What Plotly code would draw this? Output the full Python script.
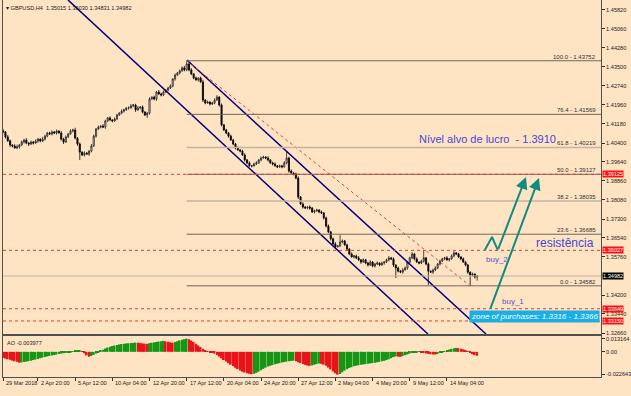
import plotly.graph_objects as go

# ---------------- data (GBPUSD H4) ----------------
closes = [
    1.4085, 1.4065, 1.4049, 1.4032, 1.4028, 1.4020, 1.4024, 1.4032, 1.4044, 1.4052,
    1.4040, 1.4036, 1.4044, 1.4040, 1.4048, 1.4056, 1.4048, 1.4056, 1.4068, 1.4081,
    1.4077, 1.4085, 1.4081, 1.4089, 1.4081, 1.4056, 1.4044, 1.4065, 1.4077, 1.4089,
    1.4093, 1.4060, 1.4036, 1.4003, 1.3991, 1.3999, 1.3995, 1.4007, 1.4028, 1.4068,
    1.4097, 1.4105, 1.4109, 1.4105, 1.4130, 1.4142, 1.4134, 1.4130, 1.4138, 1.4154,
    1.4162, 1.4170, 1.4175, 1.4183, 1.4183, 1.4191, 1.4195, 1.4175, 1.4183, 1.4187,
    1.4166, 1.4154, 1.4162, 1.4219, 1.4227, 1.4219, 1.4248, 1.4240, 1.4236, 1.4248,
    1.4256, 1.4264, 1.4272, 1.4301, 1.4317, 1.4325, 1.4334, 1.4346, 1.4338, 1.4362,
    1.4338, 1.4321, 1.4305, 1.4297, 1.4305, 1.4289, 1.4215, 1.4203, 1.4207, 1.4199,
    1.4203, 1.4215, 1.4227, 1.4195, 1.4114, 1.4093, 1.4081, 1.4068, 1.4052, 1.4036,
    1.4020, 1.4012, 1.4007, 1.3991, 1.3971, 1.3959, 1.3947, 1.3947, 1.3955, 1.3959,
    1.3971, 1.3979, 1.3983, 1.3979, 1.3971, 1.3959, 1.3955, 1.3947, 1.3943, 1.3947,
    1.3943, 1.3959, 1.3979, 1.3926, 1.3918, 1.3914, 1.3897, 1.3820, 1.3792, 1.3779,
    1.3775, 1.3779, 1.3775, 1.3759, 1.3763, 1.3767, 1.3759, 1.3755, 1.3735, 1.3702,
    1.3678, 1.3650, 1.3629, 1.3617, 1.3621, 1.3637, 1.3641, 1.3625, 1.3608, 1.3588,
    1.3576, 1.3580, 1.3572, 1.3564, 1.3555, 1.3564, 1.3551, 1.3543, 1.3555, 1.3539,
    1.3547, 1.3551, 1.3543, 1.3551, 1.3555, 1.3564, 1.3572, 1.3568, 1.3543, 1.3531,
    1.3518, 1.3514, 1.3523, 1.3531, 1.3555, 1.3572, 1.3588, 1.3568, 1.3555, 1.3551,
    1.3559, 1.3572, 1.3547, 1.3518, 1.3514, 1.3523, 1.3531, 1.3547, 1.3559, 1.3568,
    1.3572, 1.3564, 1.3568, 1.3580, 1.3592, 1.3588, 1.3576, 1.3568, 1.3555, 1.3543,
    1.3514, 1.3502, 1.3506, 1.3494, 1.34982,
]
first_open = 1.4090
upper_wick_pips = [
    6, 4, 8, 5, 3, 7, 9, 4, 6, 5, 8, 3, 6, 4, 7, 5, 3, 9, 6, 4,
    5, 7, 4, 6, 3, 8, 5, 6, 4, 7, 5, 9, 4, 6, 3, 7, 5, 4, 8, 6,
    4, 6, 3, 8, 5, 4, 7, 3, 6, 5, 4, 7, 5, 3, 6, 8, 4, 5, 7, 3,
    6, 4, 5, 7, 3, 6, 4, 8, 5, 6, 4, 5, 7, 3, 6, 4, 5, 6, 8, 13,
    5, 7, 4, 6, 3, 5, 9, 4, 6, 3, 5, 7, 8, 4, 6, 3, 5, 4, 6, 5,
    4, 6, 3, 5, 7, 4, 6, 3, 5, 7, 4, 6, 5, 3, 7, 4, 5, 6, 3, 5,
    4, 7, 25, 5, 6, 3, 5, 8, 4, 6, 5, 3, 7, 4, 6, 5, 3, 6, 4, 5,
    6, 4, 5, 7, 3, 28, 6, 4, 5, 3, 6, 4, 5, 7, 3, 6, 4, 5, 8, 4,
    5, 7, 3, 6, 4, 5, 8, 4, 6, 3, 5, 4, 7, 6, 3, 5, 8, 4, 6, 3,
    5, 32, 4, 6, 3, 5, 7, 4, 6, 5, 4, 7, 3, 6, 8, 4, 5, 3, 6, 4,
    5, 3, 6, 4, 1,
]
lower_wick_pips = [
    5, 7, 4, 8, 6, 3, 5, 7, 4, 6, 5, 8, 4, 6, 3, 7, 5, 4, 6, 5,
    4, 6, 5, 7, 3, 6, 8, 4, 5, 3, 6, 5, 7, 32, 4, 6, 3, 8, 5, 4,
    6, 3, 5, 4, 7, 5, 3, 6, 4, 5, 3, 5, 6, 4, 7, 3, 5, 8, 4, 6,
    5, 4, 12, 6, 3, 5, 7, 4, 6, 5, 3, 6, 4, 5, 7, 3, 5, 4, 6, 5,
    6, 4, 5, 3, 7, 4, 8, 5, 3, 6, 4, 5, 3, 7, 6, 4, 5, 6, 3, 5,
    6, 4, 5, 3, 7, 5, 4, 6, 3, 5, 4, 6, 3, 5, 7, 4, 6, 3, 5, 4,
    6, 3, 5, 7, 4, 6, 5, 8, 4, 6, 3, 5, 7, 4, 6, 3, 5, 4, 7, 6,
    5, 7, 4, 6, 3, 5, 6, 4, 7, 5, 3, 6, 5, 4, 7, 3, 5, 6, 4, 5,
    6, 4, 5, 3, 7, 4, 6, 5, 8, 41, 5, 4, 6, 3, 7, 5, 4, 6, 3, 5,
    4, 6, 5, 56, 3, 7, 5, 4, 6, 3, 5, 4, 7, 3, 6, 5, 4, 6, 3, 5,
    7, 44, 5, 6, 15,
]
# Awesome Oscillator, in pips (1e-4)
ao_pips = [
    -61, -69, -76, -82, -89, -96, -102, -110, -108, -104,
    -100, -95, -90, -84, -78, -72, -65, -59, -53, -47,
    -42, -37, -32, -28, -23, -18, -14, -10, -6, -2,
    4, 9, 13, 15, 8, -15, -36, -49, -43, -31,
    -16, -3, 10, 22, 34, 44, 52, 59, 65, 71,
    76, 80, 83, 86, 88, 90, 92, 95, 93, 90,
    87, 84, 82, 88, 93, 97, 101, 105, 109, 113,
    108, 103, 98, 94, 100, 108, 117, 124, 130, 135,
    129, 117, 102, 84, 66, 49, 33, 18, 8, -2,
    -10, -18, -31, -49, -66, -84, -98, -115, -131, -145,
    -162, -176, -190, -202, -211, -218, -224, -228, -225, -215,
    -203, -188, -174, -162, -151, -143, -135, -128, -122, -116,
    -110, -105, -100, -96, -93, -91, -96, -106, -116, -125,
    -133, -139, -143, -139, -132, -125, -119, -122, -131, -143,
    -160, -179, -200, -219, -233, -227, -210, -192, -178, -166,
    -157, -148, -142, -137, -133, -129, -125, -121, -118, -115,
    -112, -107, -102, -97, -92, -85, -76, -65, -55, -47,
    -49, -51, -44, -35, -27, -18, -11, -6, -2, 1,
    -6, -12, -16, -20, -24, -26, -27, -23, -13, -4,
    6, 15, 24, 31, 37, 41, 38, 33, 26, 15,
    3, -10, -23, -33, -39.77,
]

# Fibonacci retracement (high 17 Apr -> low 15 May)
fib_pct = ["100.0", "76.4", "61.8", "50.0", "38.2", "23.6", "0.0"]
fib_price = [1.43752, 1.41569, 1.40219, 1.39127, 1.38035, 1.36685, 1.34582]
fib_light = [False, False, True, False, True, False, False]
fib_start_bar = 80
fib_end_bar = 202

# horizontal marked levels (red) and bid
red_levels = [1.39125, 1.36027, 1.33649, 1.33150]
bid = 1.34982

# channel lines: (bar, price) endpoints
chan_lower = [(28.9, 1.4623), (183.8, 1.3262)]
chan_upper = [(80.1, 1.43783), (208.8, 1.3262)]

# projected paths (bar, price)
arrow_buy2 = [(208.3, 1.3604), (211.4, 1.3657), (213.9, 1.3604), (226.0, 1.3902)]
arrow_buy1 = [(210.5, 1.3360), (231.6, 1.3898)]

price_ticks = [1.45820, 1.45060, 1.44280, 1.43500, 1.42740, 1.41960, 1.41180, 1.40400,
               1.39640, 1.38860, 1.38080, 1.37300, 1.36540, 1.35760, 1.34200, 1.33440, 1.32660]
ao_ticks = [0.013164, 0.0, -0.022643]
ao_tick_text = ["0.013164", "0.00", "-0.022643"]

date_bars = [1, 16, 32, 48, 64, 80, 96, 112, 128, 144, 160, 176, 192]
date_labels = ["29 Mar 2018", "2 Apr 20:00", "5 Apr 12:00", "10 Apr 04:00", "12 Apr 20:00",
               "17 Apr 12:00", "20 Apr 04:00", "24 Apr 20:00", "27 Apr 12:00", "2 May 04:00",
               "4 May 20:00", "9 May 12:00", "14 May 04:00"]

header = "\u25BE GBPUSD,H4  1.35015 1.35030 1.34831 1.34982"

# ---------------- build ----------------
n = len(closes)
bars = list(range(1, n + 1))
opens = [first_open] + closes[:-1]
highs = [max(o, c) + u * 1e-4 for o, c, u in zip(opens, closes, upper_wick_pips)]
lows = [min(o, c) - l * 1e-4 for o, c, l in zip(opens, closes, lower_wick_pips)]
ao = [v * 1e-4 for v in ao_pips]
ao_col = ['#e8141a' if (k == 0 or ao[k] < ao[k - 1]) else '#159615' for k in range(n)]

BG = '#FFE4C4'
NAVY = '#000080'
TEAL = '#128a80'
RED = '#e83a3a'
BLUE_TXT = '#4646d6'
XR = [0.95, 258.3]
YR = [1.3262, 1.46227]
AOR = [-0.02571, 0.01623]
FONT = 'Liberation Sans, Arial, sans-serif'
SMALL = 5.6

fig = go.Figure()

fig.add_trace(go.Candlestick(
    x=bars, open=opens, high=highs, low=lows, close=closes,
    increasing=dict(line=dict(color='#202020', width=0.8), fillcolor='#f4f4f4'),
    decreasing=dict(line=dict(color='#000000', width=0.8), fillcolor='#000000'),
    whiskerwidth=0, hoverinfo='skip', xaxis='x', yaxis='y', showlegend=False))

# channels
for seg in (chan_lower, chan_upper):
    fig.add_trace(go.Scatter(x=[p[0] for p in seg], y=[p[1] for p in seg], mode='lines',
                             line=dict(color=NAVY, width=1.5), hoverinfo='skip',
                             showlegend=False, xaxis='x', yaxis='y'))

# fib trend line
fig.add_trace(go.Scatter(x=[fib_start_bar, fib_end_bar], y=[fib_price[0], fib_price[-1]], mode='lines',
                         line=dict(color=RED, width=1, dash='dot'), hoverinfo='skip',
                         showlegend=False, xaxis='x', yaxis='y'))

# AO
fig.add_trace(go.Bar(x=bars, y=ao, marker=dict(color=ao_col, line=dict(width=0)),
                     hoverinfo='skip', showlegend=False, xaxis='x2', yaxis='y2'))

# arrows first segments
fig.add_trace(go.Scatter(x=[p[0] for p in arrow_buy2[:-1]], y=[p[1] for p in arrow_buy2[:-1]],
                         mode='lines', line=dict(color=TEAL, width=2), hoverinfo='skip',
                         showlegend=False, xaxis='x', yaxis='y'))

shapes = []
for pr, light in zip(fib_price, fib_light):
    shapes.append(dict(type='line', xref='x', yref='y', x0=fib_start_bar, x1=XR[1], y0=pr, y1=pr,
                       line=dict(color='#c2b4a4' if light else '#6e665e', width=1.5 if light else 1)))
for lv in red_levels:
    shapes.append(dict(type='line', xref='paper', yref='y', x0=0, x1=1, y0=lv, y1=lv,
                       line=dict(color=RED, width=1, dash='dot')))
shapes.append(dict(type='line', xref='paper', yref='y', x0=0, x1=1, y0=bid, y1=bid,
                   line=dict(color='#b8b0a8', width=1)))

annotations = []
for pct, pr in zip(fib_pct, fib_price):
    annotations.append(dict(x=1, xref='paper', y=pr, yref='y', text=f"{pct} - {pr:.5f}",
                            showarrow=False, xanchor='right', yanchor='bottom', xshift=-3, yshift=-1,
                            font=dict(family=FONT, size=6, color='#303030')))
for lv in red_levels:
    annotations.append(dict(x=1, xref='paper', y=lv, yref='y', text=f"{lv:.5f}", showarrow=False,
                            xanchor='left', yanchor='middle', xshift=1, bgcolor='#ff1010',
                            borderpad=0, font=dict(family=FONT, size=SMALL, color='#ffffff')))
annotations.append(dict(x=1, xref='paper', y=bid, yref='y', text=f"{bid:.5f}", showarrow=False,
                        xanchor='left', yanchor='middle', xshift=1, bgcolor='#000000',
                        borderpad=0, font=dict(family=FONT, size=SMALL, color='#ffffff')))

# arrows heads
for path in (arrow_buy2, arrow_buy1):
    (x0, y0), (x1, y1) = path[-2], path[-1]
    annotations.append(dict(x=x1, y=y1, xref='x', yref='y', ax=x0, ay=y0, axref='x', ayref='y',
                            showarrow=True, arrowhead=2, arrowsize=1.2, arrowwidth=2,
                            arrowcolor=TEAL, text=''))

annotations += [
    dict(x=179.1, y=1.40564, xref='x', yref='y', text="Nível alvo de lucro  - 1.3910", showarrow=False,
         xanchor='left', yanchor='middle', font=dict(family=FONT, size=11, color=BLUE_TXT)),
    dict(x=229.4, y=1.36327, xref='x', yref='y', text="resistência", showarrow=False,
         xanchor='left', yanchor='middle', font=dict(family=FONT, size=12, color=BLUE_TXT)),
    dict(x=207.9, y=1.35675, xref='x', yref='y', text="buy_2", showarrow=False,
         xanchor='left', yanchor='middle', font=dict(family=FONT, size=8, color='#5650c4')),
    dict(x=214.8, y=1.33924, xref='x', yref='y', text="buy_1", showarrow=False,
         xanchor='left', yanchor='middle', font=dict(family=FONT, size=8, color='#5650c4')),
    dict(x=1, xref='paper', y=1.33333, yref='y', text="<i>zone of purchases: 1.3316 - 1.3366</i>",
         showarrow=False, xanchor='right', yanchor='middle', xshift=-1, bgcolor='#1aaee6',
         borderpad=1, font=dict(family=FONT, size=8, color='#ffffff')),
    dict(x=0, xref='paper', y=1, yref='paper', text=header, showarrow=False, xanchor='left',
         yanchor='top', xshift=1, yshift=-3, font=dict(family=FONT, size=SMALL, color='#202020')),
    dict(x=0, xref='paper', y=0.1088, yref='paper', text="AO -0.003977", showarrow=False,
         xanchor='left', yanchor='top', xshift=2, yshift=-2, font=dict(family=FONT, size=SMALL, color='#202020')),
]
for b, lab in zip(date_bars, date_labels):
    annotations.append(dict(x=b, xref='x2', y=0, yref='paper', text=lab, showarrow=False,
                            xanchor='left', yanchor='top', xshift=1, yshift=-1,
                            font=dict(family=FONT, size=SMALL, color='#202020')))

fig.update_layout(
    width=631, height=396,
    margin=dict(l=3, r=30, t=0, b=19),
    paper_bgcolor=BG, plot_bgcolor=BG,
    bargap=0.25,
    shapes=shapes, annotations=annotations,
    xaxis=dict(domain=[0, 1], range=XR, showgrid=False, zeroline=False, showticklabels=False,
               ticks='', showline=True, linecolor='#505050', linewidth=1,
               rangeslider=dict(visible=False), anchor='y'),
    yaxis=dict(domain=[0.1141, 1], range=YR, side='right', showgrid=False, zeroline=False,
               tickvals=price_ticks, ticktext=[f"{t:.5f}" for t in price_ticks],
               ticks='outside', ticklen=3, tickcolor='#303030',
               tickfont=dict(family=FONT, size=SMALL, color='#202020'),
               showline=True, mirror=True, linecolor='#505050', linewidth=1, anchor='x'),
    xaxis2=dict(domain=[0, 1], range=XR, matches='x', showgrid=False, zeroline=False,
                showticklabels=False, tickvals=date_bars, ticks='outside', ticklen=3,
                tickcolor='#303030', showline=True, mirror=True, linecolor='#505050',
                linewidth=1, anchor='y2'),
    yaxis2=dict(domain=[0, 0.1088], range=AOR, side='right', showgrid=False, zeroline=False,
                tickvals=ao_ticks, ticktext=ao_tick_text, ticks='outside', ticklen=3,
                tickcolor='#303030', tickfont=dict(family=FONT, size=SMALL, color='#202020'),
                showline=True, mirror=True, linecolor='#505050', linewidth=1, anchor='x2'),
)

fig.write_html("out.html", config={'displayModeBar': False},
               post_script="document.body.style.margin='0px';document.body.style.background='#FFE4C4';")
